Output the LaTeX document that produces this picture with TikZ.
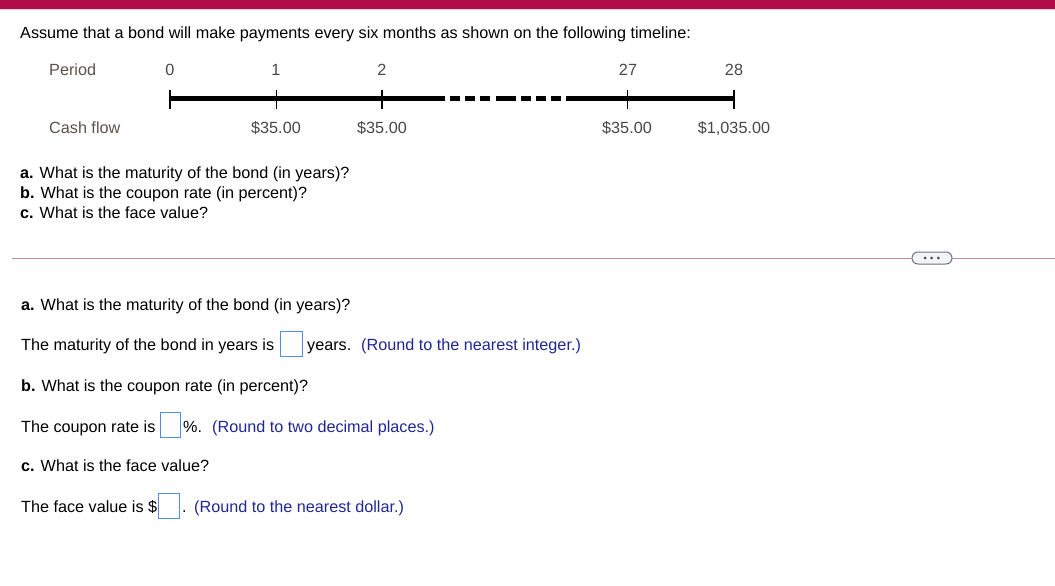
\documentclass[tikz,border=0pt]{standalone}
\usepackage{fontspec}
\setmainfont{Liberation Sans}
\usetikzlibrary{positioning}

\definecolor{barred}{RGB}{176,12,76}
\definecolor{barline}{RGB}{232,200,214}
\definecolor{labelgray}{RGB}{92,82,74}
\definecolor{numgray}{RGB}{72,72,72}
\definecolor{hintblue}{RGB}{32,40,150}
\definecolor{boxblue}{RGB}{82,142,222}
\definecolor{rulepink}{RGB}{192,142,162}
\definecolor{btnedge}{RGB}{110,116,128}
\definecolor{btnfill}{RGB}{243,244,246}

\tikzset{
  txt/.style={anchor=base west, inner sep=0pt, font=\fontsize{16.2}{19}\selectfont},
  lbl/.style={txt, text=labelgray},
  num/.style={anchor=base, inner sep=0pt, font=\fontsize{16.2}{19}\selectfont, text=numgray},
  hint/.style={txt, text=hintblue},
  ansbox/.style={draw=boxblue, line width=1pt},
  tick/.style={line width=1.3pt},
  axis/.style={line width=4.5pt},
}

\begin{document}
\begin{tikzpicture}[x=1pt,y=-1pt]
\useasboundingbox (0,0) rectangle (1055,586);
\fill[white] (0,0) rectangle (1055,586);

\fill[barred] (0,0) rectangle (1055,9); % top bar
\draw[barline, line width=1pt] (0,9.5) -- (1055,9.5);

\node[txt] (intro) at (20,39) {Assume that a bond will make payments every six months as shown on the following timeline:};

% timeline labels
\node[lbl] (periodlbl) at (49,75) {Period};
\node[num] (p0) at (170,75) {0};
\node[num] (p1) at (276,75) {1};
\node[num] (p2) at (382,75) {2};
\node[num] (p27) at (628,75) {27};
\node[num] (p28) at (734,75) {28};

\coordinate (t0) at (170,98.5);
\coordinate (t1) at (276.5,98.5);
\coordinate (t2) at (382,98.5);
\coordinate (t27) at (627.5,98.5);
\coordinate (t28) at (734,98.5);

% axis, solid then broken then solid
\draw[axis] (t0) -- (445,98.5);
\foreach \a/\b in {450/460,465/475,480/490,496/516,521/531,536/546,551/561}
  \draw[axis] (\a,98.5) -- (\b,98.5);
\draw[axis] (566,98.5) -- (t28);

\foreach \t in {t0,t1,t2,t27,t28}
  \draw[tick] ([yshift=-10.5pt]\t) -- ([yshift=8.5pt]\t);

\node[lbl] (cflbl) at (49,133) {Cash flow};
\node[num] (cf1) at (276,133) {\$35.00};
\node[num] (cf2) at (382,133) {\$35.00};
\node[num] (cf27) at (627,133) {\$35.00};
\node[num] (cf28) at (734,133) {\$1,035.00};

% questions
\node[txt] (qa) at (20,178) {\textbf{a.} What is the maturity of the bond (in years)?};
\node[txt] (qb) at (20,198) {\textbf{b.} What is the coupon rate (in percent)?};
\node[txt] (qc) at (20,218) {\textbf{c.} What is the face value?};

% divider with button
\draw[rulepink, line width=1pt] (12,258) -- (1055,258);
\draw[btnedge, fill=btnfill, line width=1pt, rounded corners=6pt] (912,252) rectangle (952,264);
\foreach \x in {925,931.7,938.4}
  \fill[numgray] (\x,258) circle (1.5pt);

% answers
\node[txt] (aa) at (21,310) {\textbf{a.} What is the maturity of the bond (in years)?};
\node[txt] (ma) at (21,350.5) {The maturity of the bond in years is};
\draw[ansbox] (280.5,331.5) rectangle (302,356.5);
\node[txt] (mayrs) at (307,350.5) {years.};
\node[hint] (mahint) at (361,350.5) {(Round to the nearest integer.)};

\node[txt] (ab) at (21,391) {\textbf{b.} What is the coupon rate (in percent)?};
\node[txt] (cr) at (21,432) {The coupon rate is};
\draw[ansbox] (160.5,412.5) rectangle (180.5,437.5);
\node[txt] (crpct) at (183,432) {\%.};
\node[hint] (crhint) at (212,432) {(Round to two decimal places.)};

\node[txt] (ac) at (21,471.5) {\textbf{c.} What is the face value?};
\node[txt] (fv) at (21,512.5) {The face value is \$};
\draw[ansbox] (158,493.5) rectangle (179,518.5);
\node[txt] (fvdot) at (182,512.5) {.};
\node[hint] (fvhint) at (194,512.5) {(Round to the nearest dollar.)};
\end{tikzpicture}
\end{document}
